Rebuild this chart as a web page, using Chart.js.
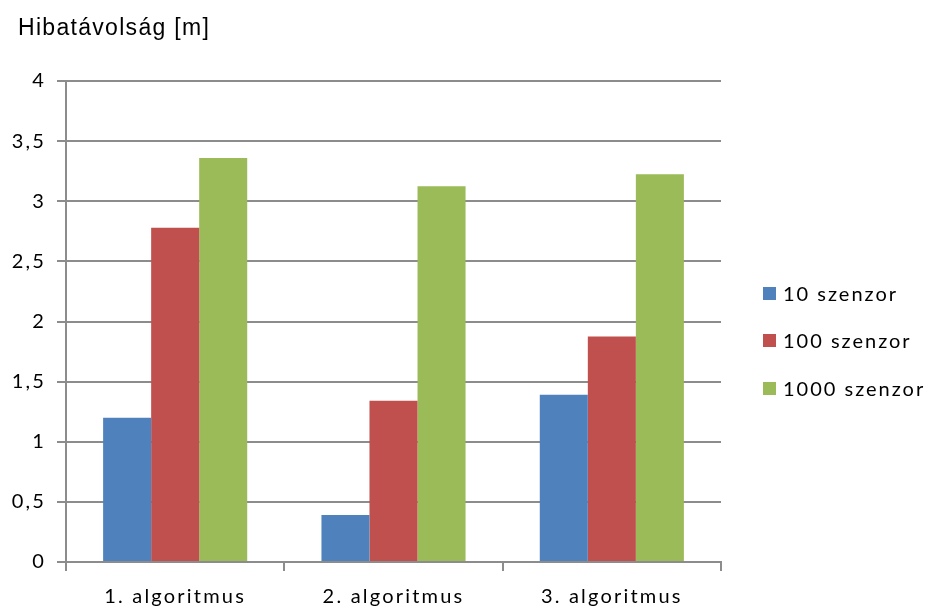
<!DOCTYPE html>
<html>
<head>
<meta charset="utf-8">
<style>
  html, body { margin: 0; padding: 0; background: #ffffff; }
  #wrap { width: 926px; height: 610px; }
</style>
<script src="https://cdn.jsdelivr.net/npm/chart.js@4"></script>
</head>
<body>
<div id="wrap"><canvas id="chart" width="926" height="610"></canvas></div>
<script>
// Categories and series
const categories = ['1. algoritmus', '2. algoritmus', '3. algoritmus'];
const seriesNames = ['10 szenzor', '100 szenzor', '1000 szenzor'];
const sensors10 = [1.2, 0.39, 1.39];
const sensors100 = [2.78, 1.34, 1.875];
const sensors1000 = [3.36, 3.125, 3.225];
const seriesColors = ['#4F81BD', '#C0504D', '#9BBB59'];
const yTickLabels = ['0', '0,5', '1', '1,5', '2', '2,5', '3', '3,5', '4'];
const yTitle = 'Hibatávolság [m]';

const gridColor = '#8c8c8c';
const textColor = '#000';
const tickFont = { family: 'Lato', size: 20 };

// Title in the top-left corner and a legend on the right
const decorations = {
  id: 'decorations',
  beforeDraw(chart) {
    chart.ctx.letterSpacing = '2.2px';
  },
  afterDraw(chart) {
    const ctx = chart.ctx;
    ctx.save();
    ctx.letterSpacing = '1.3px';
    ctx.fillStyle = textColor;
    ctx.font = '23px "Liberation Sans"';
    ctx.textBaseline = 'alphabetic';
    ctx.textAlign = 'left';
    ctx.fillText(yTitle, 18, 35);

    ctx.letterSpacing = '2px';
    ctx.font = '20px Lato';
    ctx.textBaseline = 'middle';
    const rowY = [294, 341, 389];
    chart.data.datasets.forEach((ds, i) => {
      ctx.fillStyle = ds.backgroundColor;
      ctx.fillRect(763, rowY[i] - 7, 13, 13);
      ctx.fillStyle = textColor;
      ctx.fillText(ds.label, 783, rowY[i] + 1);
    });
    ctx.restore();
  }
};

new Chart(document.getElementById('chart'), {
  type: 'bar',
  data: {
    labels: categories,
    datasets: [
      { label: seriesNames[0], data: sensors10, backgroundColor: seriesColors[0] },
      { label: seriesNames[1], data: sensors100, backgroundColor: seriesColors[1] },
      { label: seriesNames[2], data: sensors1000, backgroundColor: seriesColors[2] }
    ]
  },
  options: {
    responsive: false,
    animation: false,
    devicePixelRatio: 1,
    layout: { padding: { left: 0, right: 205, top: 81, bottom: 0 } },
    datasets: { bar: { categoryPercentage: 0.66, barPercentage: 1.0, borderWidth: 0 } },
    plugins: {
      legend: { display: false },
      title: { display: false },
      tooltip: { enabled: false }
    },
    scales: {
      x: {
        offset: true,
        grid: { offset: true, drawOnChartArea: false, drawTicks: true, tickLength: 9, color: gridColor, lineWidth: 2 },
        border: { display: true, color: gridColor, width: 2 },
        ticks: { color: textColor, font: tickFont, padding: 14, maxRotation: 0 },
        afterFit(scale) { scale.height = 48; }
      },
      y: {
        min: 0,
        max: 4,
        ticks: {
          stepSize: 0.5,
          color: textColor,
          font: tickFont,
          padding: 11,
          callback: (v, i) => yTickLabels[i]
        },
        grid: { color: gridColor, lineWidth: 2, drawTicks: true, tickLength: 9 },
        border: { display: true, color: gridColor, width: 2 },
        afterFit(scale) { scale.width = 66; }
      }
    }
  },
  plugins: [decorations]
});
</script>
</body>
</html>
